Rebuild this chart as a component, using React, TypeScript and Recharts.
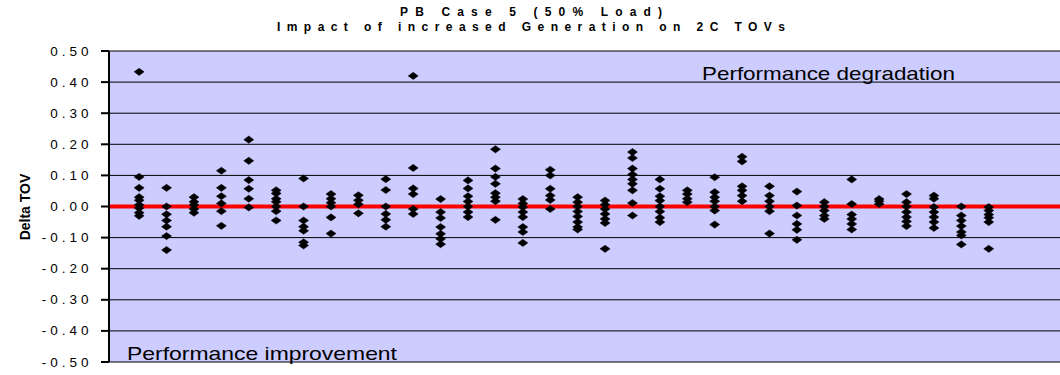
import { ScatterChart, Scatter, XAxis, YAxis, CartesianGrid, ReferenceLine } from 'recharts';

// one array per column of diamonds, read top to bottom
const columnValues: number[][] = [
  [0.433, 0.095, 0.06, 0.03, 0.02, 0.005, -0.005, -0.02, -0.03],
  [0.06, 0.0, -0.025, -0.045, -0.065, -0.095, -0.14],
  [0.03, 0.015, 0.005, -0.008, -0.02],
  [0.115, 0.06, 0.033, 0.01, -0.015, -0.062],
  [0.215, 0.147, 0.085, 0.057, 0.025, -0.003],
  [0.052, 0.042, 0.025, 0.015, 0.0, -0.015, -0.045],
  [0.09, 0.0, -0.045, -0.065, -0.078, -0.115, -0.125],
  [0.04, 0.025, 0.012, 0.0, -0.035, -0.087],
  [0.036, 0.02, 0.007, -0.022],
  [0.088, 0.053, 0.0, -0.024, -0.043, -0.065],
  [0.42, 0.124, 0.058, 0.04, -0.008, -0.024],
  [0.024, -0.018, -0.037, -0.066, -0.088, -0.104, -0.121],
  [0.084, 0.058, 0.033, 0.016, 0.0, -0.018, -0.034],
  [0.184, 0.122, 0.095, 0.073, 0.043, 0.03, 0.017, -0.043],
  [0.024, 0.01, -0.002, -0.018, -0.034, -0.066, -0.082, -0.117],
  [0.118, 0.1, 0.057, 0.035, 0.021, -0.008],
  [0.03, 0.014, 0.0, -0.016, -0.032, -0.05, -0.066, -0.074],
  [0.019, 0.006, -0.008, -0.024, -0.04, -0.053, -0.136],
  [0.175, 0.156, 0.122, 0.103, 0.087, 0.073, 0.052, 0.011, -0.029],
  [0.087, 0.057, 0.033, 0.019, 0.0, -0.016, -0.036, -0.05],
  [0.052, 0.04, 0.025, 0.014],
  [0.094, 0.046, 0.03, 0.017, 0.0, -0.013, -0.058],
  [0.16, 0.145, 0.065, 0.052, 0.035, 0.017],
  [0.065, 0.035, 0.017, 0.0, -0.015, -0.087],
  [0.048, 0.003, -0.029, -0.056, -0.075, -0.107],
  [0.014, 0.0, -0.013, -0.029, -0.04],
  [0.087, 0.008, -0.026, -0.04, -0.056, -0.074],
  [0.024, 0.017, 0.008],
  [0.04, 0.014, 0.0, -0.018, -0.034, -0.048, -0.063],
  [0.035, 0.025, -0.002, -0.018, -0.034, -0.05, -0.069],
  [0.0, -0.029, -0.045, -0.063, -0.082, -0.093, -0.122],
  [-0.002, -0.013, -0.026, -0.036, -0.05, -0.136],
];

const yTicks = [-0.5, -0.4, -0.3, -0.2, -0.1, 0, 0.1, 0.2, 0.3, 0.4, 0.5];
const titleLines = ['PB Case 5 (50% Load)', 'Impact of increased Generation on 2C TOVs'];
const yLabel = 'Delta TOV';
const upperNote = 'Performance degradation';
const lowerNote = 'Performance improvement';

const points = columnValues.flatMap((vals, i) => vals.map((v) => ({ x: i + 1, y: v })));

const FONT = '"Liberation Sans", Arial, sans-serif';

const Diamond = (props: any) => {
  const { cx, cy } = props;
  if (cx == null || cy == null) return null;
  return (
    <path
      d={`M${cx - 5},${cy} L${cx},${cy - 3.6} L${cx + 5},${cy} L${cx},${cy + 3.6} Z`}
      fill="#000"
      stroke="#000"
      strokeWidth={0.5}
    />
  );
};

const YTick = (props: any) => {
  const { x, y, payload } = props;
  return (
    <text
      x={x}
      y={y}
      dx={-6.5}
      textAnchor="end"
      dominantBaseline="central"
      fontSize={13.5}
      fontFamily={FONT}
      letterSpacing={4}
      fill="#000"
    >
      {Number(payload.value).toFixed(2)}
    </text>
  );
};

export default function App() {
  return (
    <div style={{ position: 'absolute', left: 0, top: 0, width: 1060, height: 375, background: '#fff' }}>
      <ScatterChart width={1060} height={375} margin={{ top: 51, right: 0, bottom: 13, left: 0 }}>
        <CartesianGrid vertical={false} stroke="#000" strokeWidth={1} fill="#CCCCFF" fillOpacity={1} />
        <XAxis type="number" dataKey="x" domain={[-0.1, 34.6]} hide />
        <YAxis
          type="number"
          dataKey="y"
          width={109}
          domain={[-0.5, 0.5]}
          ticks={yTicks}
          allowDataOverflow
          axisLine={{ stroke: '#000', strokeWidth: 2 }}
          tickLine={{ stroke: '#000', strokeWidth: 2 }}
          tickSize={8}
          tick={<YTick />}
          interval={0}
        />
        <ReferenceLine y={0} stroke="#FF0000" strokeWidth={4} />
        <Scatter data={points} shape={<Diamond />} isAnimationActive={false} />
      </ScatterChart>
      <svg
        width={1060}
        height={375}
        style={{ position: 'absolute', left: 0, top: 0, pointerEvents: 'none' }}
      >
        <text x={531} y={12} textAnchor="middle" dominantBaseline="central" fontSize={12} fontWeight="bold" fontFamily={FONT} textLength={262} lengthAdjust="spacing">
          {titleLines[0]}
        </text>
        <text x={531} y={27} textAnchor="middle" dominantBaseline="central" fontSize={12} fontWeight="bold" fontFamily={FONT} textLength={508} lengthAdjust="spacing">
          {titleLines[1]}
        </text>
        <text x={25} y={207} transform="rotate(-90 25 207)" textAnchor="middle" dominantBaseline="central" fontSize={14} fontWeight="bold" fontFamily={FONT}>
          {yLabel}
        </text>
        <text x={702} y={73} dominantBaseline="central" fontSize={18.5} fontFamily={FONT} textLength={253} lengthAdjust="spacingAndGlyphs">
          {upperNote}
        </text>
        <text x={127} y={353} dominantBaseline="central" fontSize={18.5} fontFamily={FONT} textLength={270} lengthAdjust="spacingAndGlyphs">
          {lowerNote}
        </text>
      </svg>
    </div>
  );
}
